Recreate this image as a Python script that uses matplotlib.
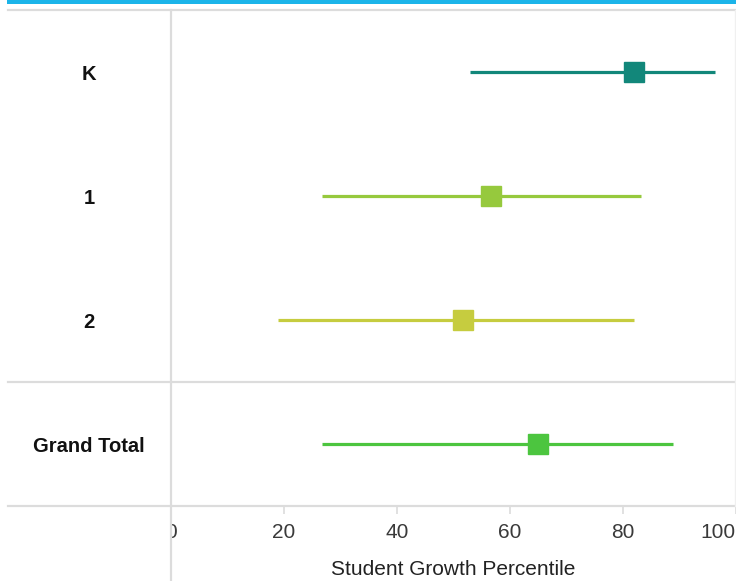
import matplotlib
matplotlib.use("Agg")
import matplotlib.pyplot as plt
from matplotlib.lines import Line2D
from matplotlib.patches import Rectangle
from matplotlib.transforms import Bbox

plt.rcParams['font.family'] = ['Liberation Sans', 'DejaVu Sans']

# data
groups = ['K', '1', '2', 'Grand Total']
sgp_median = [82, 56.7, 51.7, 65]
sgp_low = [53, 26.7, 18.9, 26.7]
sgp_high = [96.2, 83.1, 82.0, 88.9]
colors = ['#12877a', '#96c93d', '#c6cc3f', '#4cc53f']
x_ticks = [0, 20, 40, 60, 80, 100]

W, H = 736, 581
fig = plt.figure(figsize=(W / 100, H / 100), dpi=100)

def fx(px):
    return px / W

def fy(py):
    return 1 - py / H

grid = '#dcdcdc'

# frame / table lines
fig.patches.append(Rectangle((fx(7), fy(3.5)), fx(729), 3.5 / H, transform=fig.transFigure,
                             color='#1bb4e9', lw=0))
for y in [10, 382, 506]:
    fig.lines.append(Line2D([fx(8), 1], [fy(y), fy(y)], transform=fig.transFigure,
                            color=grid, lw=1.6))
fig.lines.append(Line2D([fx(171), fx(171)], [fy(10), 0], transform=fig.transFigure,
                        color=grid, lw=1.6))
fig.lines.append(Line2D([fx(735), fx(735)], [fy(10), fy(506)], transform=fig.transFigure,
                        color='#f0f0f0', lw=1.0))

ax = fig.add_axes([fx(171), fy(506), fx(565), 496 / H])
ax.set_facecolor('none')

for i in range(len(groups)):
    ax.hlines(i, sgp_low[i], sgp_high[i], color=colors[i], lw=2.3)
    ax.plot(sgp_median[i], i, marker='s', markersize=14.5, color=colors[i],
            markeredgecolor=colors[i])

ax.set_xlim(0, 100)
ax.set_ylim(len(groups) - 0.5, -0.5)

for s in ax.spines.values():
    s.set_visible(False)

ax.set_yticks(range(len(groups)), groups)
ax.tick_params(axis='y', length=0, pad=59)
for lbl in ax.get_yticklabels():
    lbl.set_ha('center')
    lbl.set_fontweight('bold')
    lbl.set_fontsize(14.5)
    lbl.set_color('#111111')

ax.set_xticks(x_ticks, [str(t) for t in x_ticks])
ax.tick_params(axis='x', length=6, width=1.2, color=grid, pad=6,
               labelsize=15, labelcolor='#3a3a3a')
xl = ax.get_xticklabels()
xl[0].set_clip_box(Bbox.from_extents(171.5, 0, W, H))
xl[0].set_clip_on(True)
xl[-1].set_ha('right')

ax.set_xlabel('Student Growth Percentile', fontsize=15, color='#222222', labelpad=13)

fig.savefig('out.png', dpi=100)
